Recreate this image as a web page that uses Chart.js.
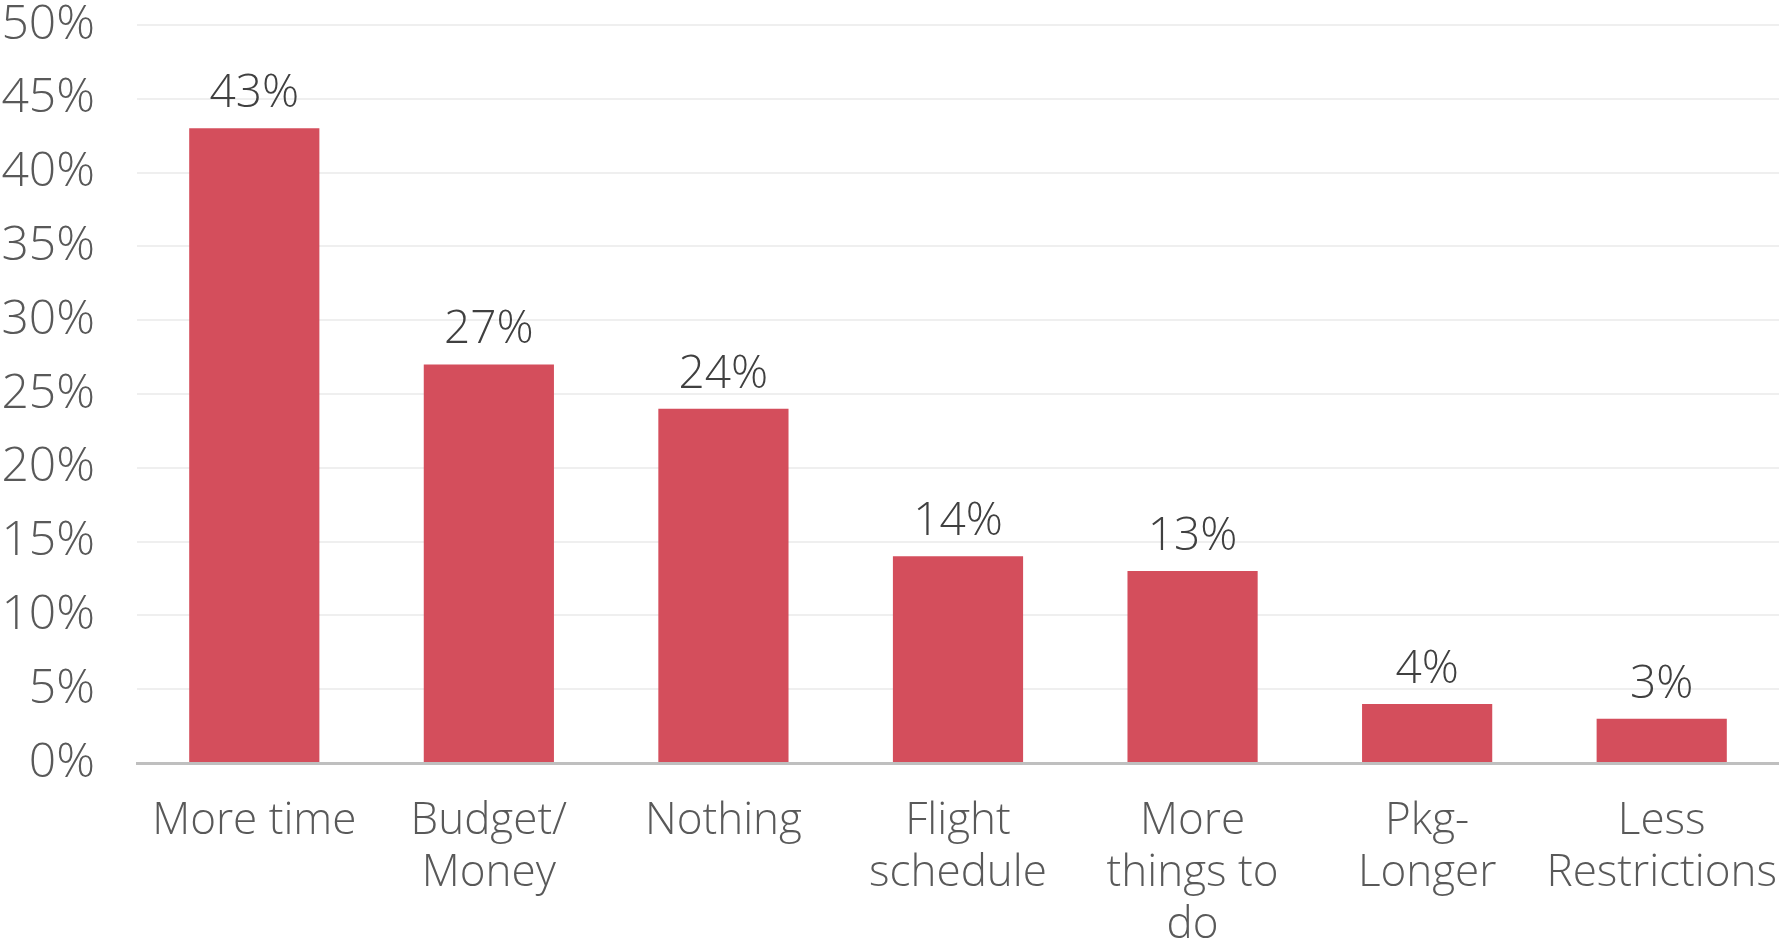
<!DOCTYPE html>
<html>
<head>
<meta charset="utf-8">
<script src="https://cdn.jsdelivr.net/npm/chart.js@4/dist/chart.umd.min.js"></script>
<style>
  html, body { margin: 0; padding: 0; background: #fff; }
  #wrap { width: 1779px; height: 943px; }
</style>
</head>
<body>
<div id="wrap"><canvas id="chart" width="1779" height="943"></canvas></div>
<script>
const categories = [
  "More time",
  ["Budget/", "Money"],
  "Nothing",
  ["Flight", "schedule"],
  ["More", "things to", "do"],
  ["Pkg-", "Longer"],
  ["Less", "Restrictions"]
];
const shares = [43, 27, 24, 14, 13, 4, 3];
const yTicks = [0, 5, 10, 15, 20, 25, 30, 35, 40, 45, 50];

const FONT = "'Open Sans', 'DejaVu Sans', sans-serif";

// draws the value above each bar
const valueLabels = {
  id: "valueLabels",
  afterDatasetsDraw(chart) {
    const ctx = chart.ctx;
    const meta = chart.getDatasetMeta(0);
    ctx.save();
    ctx.font = "300 46px " + FONT;
    ctx.fillStyle = "#404040";
    ctx.textAlign = "center";
    ctx.textBaseline = "alphabetic";
    meta.data.forEach((bar, i) => {
      ctx.fillText(shares[i] + "%", bar.x, bar.y - 21);
    });
    ctx.restore();
  }
};

new Chart(document.getElementById("chart"), {
  type: "bar",
  data: {
    labels: categories,
    datasets: [
      {
        data: shares,
        backgroundColor: "#D44E5C",
        borderWidth: 0,
        categoryPercentage: 1,
        barPercentage: 0.555
      }
    ]
  },
  plugins: [valueLabels],
  options: {
    responsive: false,
    animation: false,
    layout: { padding: { top: 0, right: 0, left: 0, bottom: 0 } },
    plugins: {
      legend: { display: false },
      tooltip: { enabled: false }
    },
    scales: {
      x: {
        grid: { display: false, drawTicks: false },
        border: { color: "#BFBFBF", width: 3 },
        ticks: {
          color: "#595959",
          font: { family: FONT, size: 44, weight: "300", lineHeight: 1.18 },
          padding: 33,
          maxRotation: 0,
          autoSkip: false
        },
        afterFit(scale) {
          scale.height = 180;
          scale.paddingLeft = 0;
          scale.paddingRight = 0;
        }
      },
      y: {
        min: 0,
        max: 50,
        afterBuildTicks(scale) {
          scale.ticks = yTicks.map((v) => ({ value: v }));
        },
        grid: { color: "#EFEFEF", lineWidth: 2, drawTicks: false },
        border: { display: false },
        ticks: {
          color: "#595959",
          font: { family: FONT, size: 48, weight: "300", lineHeight: 1.0 },
          padding: 42,
          callback: (v) => v + "%"
        },
        afterFit(scale) {
          scale.width = 137;
          scale.paddingTop = 25;
          scale.paddingBottom = 0;
        }
      }
    }
  }
});
</script>
</body>
</html>
